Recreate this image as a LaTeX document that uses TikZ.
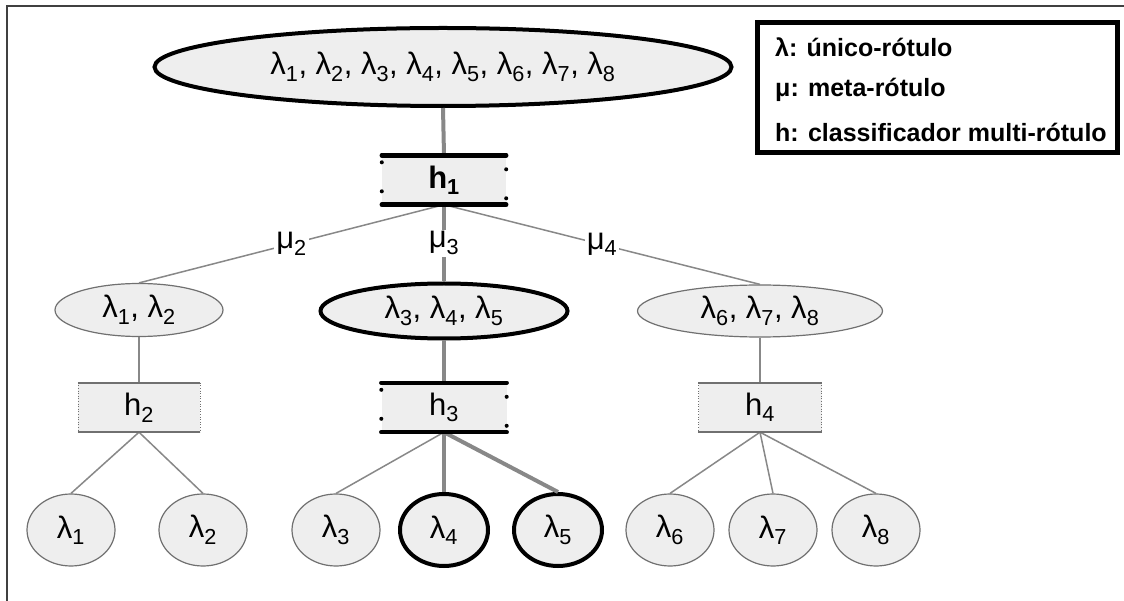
\documentclass[tikz,border=0pt]{standalone}
\usepackage{fontspec}
\setmainfont{Liberation Sans}
\usepackage{tikz}
\usepackage{xcolor}
\usetikzlibrary{positioning,shapes.geometric}

\definecolor{cellfill}{HTML}{EEEEEE}
\definecolor{wiregray}{HTML}{888888}
\definecolor{rimgray}{HTML}{707070}
\newcommand{\lmb}[1]{λ\textsubscript{#1}}
\newcommand{\mub}[1]{μ\textsubscript{#1}}

\begin{document}
\begin{tikzpicture}[x=1pt,y=-1pt,
  font=\fontsize{31}{36}\selectfont,
  set/.style={ellipse,fill=cellfill,draw=rimgray,line width=1.2pt,inner sep=0pt},
  chosen/.style={draw=black,line width=4pt},
  clf/.style={rectangle,fill=cellfill,inner sep=0pt,minimum height=49pt},
  leaf/.style={set,minimum width=88pt,minimum height=72pt},
  wire/.style={draw=wiregray,line width=1.5pt},
  hot/.style={draw=wiregray,line width=4pt},
  mu/.style={fill=white,inner sep=2pt},
  bar/.style={line width=4.5pt,line cap=round},
  keytext/.style={anchor=west,inner sep=0pt,font=\fontsize{25}{29}\selectfont\bfseries}]
\useasboundingbox (0,0) rectangle (1124,601);
\fill [white] (0,0) rectangle (1124,601);
\draw [draw=black!75,line width=2pt] (6.5,601) -- (6.5,6.5) -- (1124,6.5);
% root and first classifier
\node [set,chosen,minimum width=577pt,minimum height=78pt] (root) at (443,67) {\lmb{1}, \lmb{2}, \lmb{3}, \lmb{4}, \lmb{5}, \lmb{6}, \lmb{7}, \lmb{8}};
\node [clf,minimum width=124pt,font=\fontsize{31}{36}\selectfont\bfseries] (h1) at (444,180) {h\textsubscript{1}};
% meta-label sets
\node [set,minimum width=168pt,minimum height=53pt] (m12) at (139,310) {\lmb{1}, \lmb{2}};
\node [set,chosen,minimum width=247pt,minimum height=55pt] (m345) at (444,311) {\lmb{3}, \lmb{4}, \lmb{5}};
\node [set,minimum width=245pt,minimum height=52pt] (m678) at (760,311) {\lmb{6}, \lmb{7}, \lmb{8}};
% second level classifiers
\node [clf,minimum width=122pt] (h2) at (139,407.5) {h\textsubscript{2}};
\node [clf,minimum width=125pt] (h3) at (444,407.5) {h\textsubscript{3}};
\node [clf,minimum width=123pt] (h4) at (760,407.5) {h\textsubscript{4}};
% single labels
\node [leaf] (l1) at (71,530) {\lmb{1}};
\node [leaf] (l2) at (203,530) {\lmb{2}};
\node [leaf] (l3) at (336,530) {\lmb{3}};
\node [leaf,chosen] (l4) at (444,530) {\lmb{4}};
\node [leaf,chosen] (l5) at (558,530) {\lmb{5}};
\node [leaf] (l6) at (670,530) {\lmb{6}};
\node [leaf] (l7) at (773,530) {\lmb{7}};
\node [leaf] (l8) at (876,530) {\lmb{8}};
% connectors
\draw [hot] (root.south) -- (h1.north);
\draw [wire] (h1.south) -- (m12.north) node [mu,midway] (mu2) {\mub{2}};
\draw [hot] (h1.south) -- (m345.north) node [mu,midway] (mu3) {\mub{3}};
\draw [wire] (h1.south) -- (m678.north) node [mu,midway] (mu4) {\mub{4}};
\draw [wire] (m12.south) -- (h2.north);
\draw [hot] (m345.south) -- (h3.north);
\draw [wire] (m678.south) -- (h4.north);
\draw [wire] (h2.south) -- (l1.north);
\draw [wire] (h2.south) -- (l2.north);
\draw [wire] (h3.south) -- (l3.north);
\draw [hot] (h3.south) -- (l4.north);
\draw [hot] (h3.south) -- (l5.north);
\draw [wire] (h4.south) -- (l6.north);
\draw [wire] (h4.south) -- (l7.north);
\draw [wire] (h4.south) -- (l8.north);
% classifier edges
\foreach \c in {h1,h3} {
  \draw [bar] (\c.north west) -- (\c.north east);
  \draw [bar] (\c.south west) -- (\c.south east);
  \draw [line width=4pt,line cap=round,dash pattern=on 0pt off 29pt,dash phase=22pt] (\c.north west) -- (\c.south west);
  \draw [line width=4pt,line cap=round,dash pattern=on 0pt off 29pt,dash phase=15pt] (\c.north east) -- (\c.south east);
}
\foreach \c in {h2,h4} {
  \draw [draw=rimgray,line width=1.5pt] (\c.north west) -- (\c.north east);
  \draw [draw=rimgray,line width=1.5pt] (\c.south west) -- (\c.south east);
  \draw [draw=rimgray,line width=0.6pt,dotted] (\c.north west) -- (\c.south west);
  \draw [draw=rimgray,line width=0.6pt,dotted] (\c.north east) -- (\c.south east);
}
% key
\node [draw,line width=5pt,minimum width=360pt,minimum height=130pt,inner sep=0pt] (key) at (937.5,87.5) {};
\node [keytext] (k1) at (775,47) {λ: único-rótulo};
\node [keytext] (k2) at (775,90) {μ: meta-rótulo};
\node [keytext] (k3) at (775,132) {h: classificador multi-rótulo};
\end{tikzpicture}
\end{document}
